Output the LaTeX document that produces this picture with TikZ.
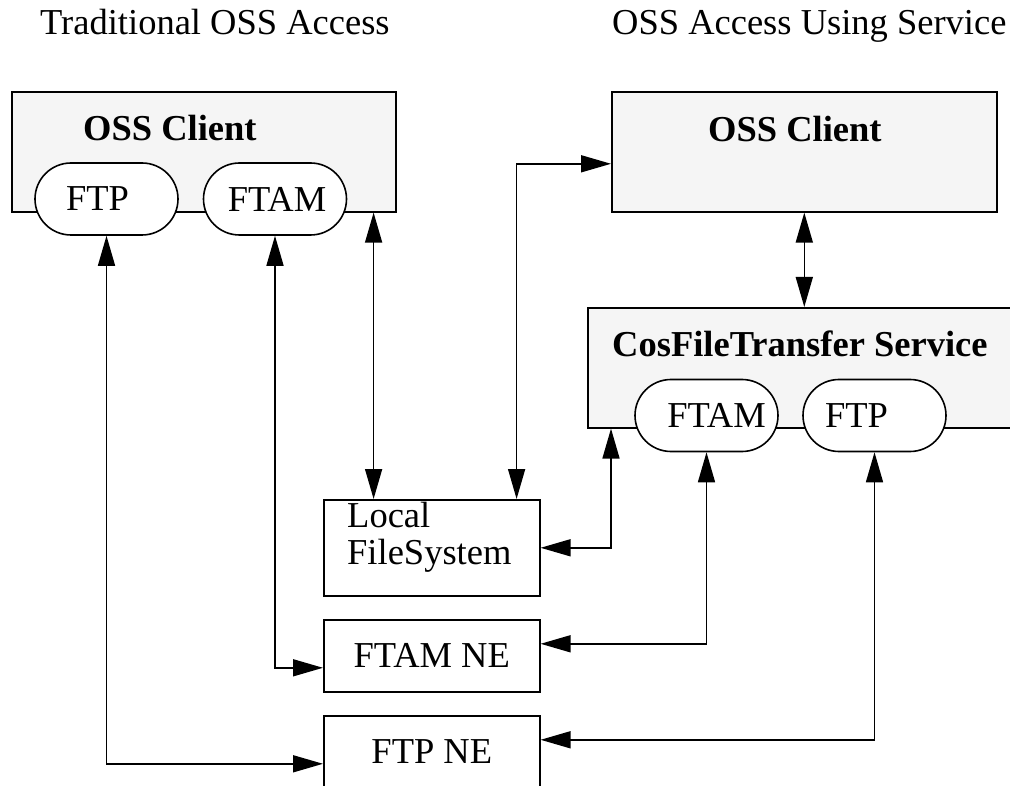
\documentclass[tikz,border=0pt]{standalone}
\usepackage{fontspec}
\setmainfont{Liberation Serif}
\usetikzlibrary{arrows.meta, calc, shapes.misc}
\definecolor{panelgray}{HTML}{F5F5F5}
\newcommand{\bigfont}{\fontsize{36.5}{37}\selectfont}
\tikzset{
	panel/.style={draw, line width=1.6pt, fill=panelgray, inner sep=0pt, anchor=north west, minimum height=120pt},
	proto/.style={draw, line width=1.6pt, fill=white, rounded rectangle, minimum width=143pt, minimum height=72pt, inner sep=0pt},
	nudge/.style={execute at begin node={\hspace*{#1}}},
	nebox/.style={draw, line width=1.6pt, fill=white, inner sep=0pt, anchor=north west, minimum width=216pt},
	heading/.style={anchor=base west, inner sep=0pt, font=\bigfont\bfseries},
	caption/.style={anchor=base west, inner sep=0pt},
	link/.style={line width=1.6pt, {Triangle[length=30pt,width=17pt]}-{Triangle[length=30pt,width=17pt]}}
}

\begin{document}
\begin{tikzpicture}[x=1pt, y=-1pt, font=\bigfont, line join=miter]
				\useasboundingbox (0,0) rectangle (1010,786);
				\clip (0,0) rectangle (1010,786);
				
				\node[caption] (tradTitle) at (40,35) {Traditional OSS Access};
				\node[caption] (servTitle) at (612,35) {OSS Access Using Service};
				
				\node[panel, minimum width=384pt] (ossL) at (11,91) {};
				\node[panel, minimum width=385pt] (ossR) at (611,91) {};
				\node[panel, minimum width=432pt] (cft) at (587,307) {};
				\node[heading] (ossLtext) at (83,141) {OSS Client};
				\node[heading] (ossRtext) at (708,142) {OSS Client};
				\node[heading] (cftText) at (612,357) {CosFileTransfer Service};
				
				\node[proto, nudge=-18pt] (ftpL) at (106.5,199) {FTP};
				\node[proto, nudge=4pt] (ftamL) at (275,199) {FTAM};
				\node[proto, nudge=20pt] (ftamR) at (706.5,415.5) {FTAM};
				\node[proto, nudge=-36pt] (ftpR) at (874.5,415.5) {FTP};
				
				\node[nebox, minimum height=96pt] (lfs) at (323,499) {};
				\node[anchor=north west, inner sep=0pt, align=left] (lfsText) at (347,502) {Local\\FileSystem};
				\node[nebox, minimum height=72pt] (ftamne) at (323,619) {FTAM NE};
				\node[nebox, minimum height=72pt] (ftpne) at (323,715) {FTP NE};
				
				\coordinate (ossLtap) at ([xshift=-23pt]ossL.south east);
				\coordinate (cftTap) at ([xshift=24pt]cft.south west);
				
				\draw[link] (ftpL.south) |- ([yshift=-12pt]ftpne.west);
				\draw[link] (ftamL.south) |- ([yshift=-12pt]ftamne.west);
				\draw[link] (ossLtap) -- (ossLtap |- lfs.north);
				\draw[link] ([xshift=-24pt]lfs.north east) |- ([yshift=-12pt]ossR.west);
				\draw[link] (ossR.south) -- (ossR.south |- cft.north);
				\draw[link] (lfs.east) -| (cftTap);
				\draw[link] (ftamR.south) |- ([yshift=12pt]ftamne.east);
				\draw[link] (ftpR.south) |- ([yshift=12pt]ftpne.east);
			\end{tikzpicture}
\end{document}
